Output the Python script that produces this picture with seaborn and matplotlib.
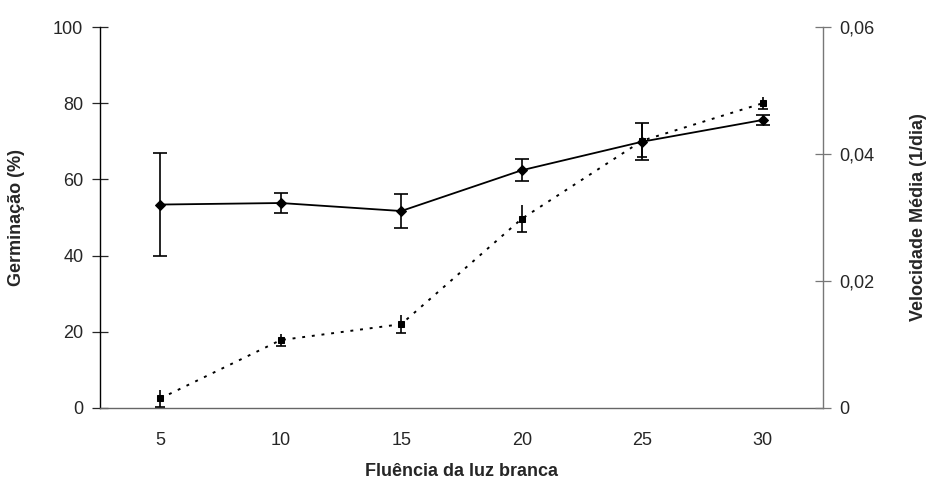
import numpy as np
import pandas as pd
import matplotlib
matplotlib.use("Agg")
import matplotlib.pyplot as plt
from matplotlib.ticker import FixedLocator, FuncFormatter
import seaborn as sns

# data
fluencia = ["5", "10", "15", "20", "25", "30"]
germinacao = [53.4, 53.8, 51.7, 62.4, 69.9, 75.6]
germinacao_err = [13.5, 2.7, 4.5, 2.9, 4.9, 1.4]
velocidade = [0.0015, 0.0107, 0.0132, 0.0298, 0.0421, 0.0480]
velocidade_err = [0.0013, 0.0009, 0.0014, 0.0021, 0.0026, 0.0009]

sns.set_theme(style="white")
plt.rcParams["font.family"] = ["Liberation Sans", "DejaVu Sans"]

pos = np.arange(len(fluencia))
df = pd.DataFrame({"pos": pos, "germ": germinacao, "vel": velocidade})

fig = plt.figure(figsize=(9.32, 4.93), dpi=100)
ax = fig.add_axes([100 / 932, 1 - 408 / 493, 723 / 932, 381 / 493])
ax2 = ax.twinx()

# solid line, diamonds (left axis)
sns.lineplot(data=df, x="pos", y="germ", ax=ax, color="black", lw=1.3,
             marker="D", markersize=5, markeredgecolor="black", zorder=3)
ax.errorbar(pos, germinacao, yerr=germinacao_err, fmt="none", ecolor="black",
            elinewidth=1.2, capsize=5, capthick=1.2, zorder=2)

# dotted line, squares (right axis); only the lower caps show
sns.lineplot(data=df, x="pos", y="vel", ax=ax2, color="black", lw=1.4,
             linestyle=(0, (1.5, 3.5)), marker="s", markersize=5,
             markeredgecolor="black", zorder=3)
v = np.array(velocidade)
ve = np.array(velocidade_err)
ax2.vlines(pos, v - ve, v + ve, color="black", lw=1.2, zorder=2)
ax2.hlines(v - ve, pos - 0.042, pos + 0.042, color="black", lw=1.2, zorder=2)

ax.set_xlim(-0.5, len(fluencia) - 0.5)
ax.set_ylim(0, 100)
ax2.set_ylim(0, 0.06)

# boundary ticks without labels, category labels centred
ax.xaxis.set_major_locator(FixedLocator(np.arange(-0.5, len(fluencia), 1.0)))
ax.xaxis.set_major_formatter(FuncFormatter(lambda v, p: ""))
ax.set_xticks(pos, fluencia, minor=True)
ax.tick_params(axis="x", which="major", direction="inout", length=13,
               width=0.9, color="#555555")
ax.tick_params(axis="x", which="minor", length=0, pad=17, labelsize=13)

ax.set_yticks([0, 20, 40, 60, 80, 100])
ax.tick_params(axis="y", direction="inout", length=12, width=0.9,
               labelsize=13, pad=6, left=True)
ax2.set_yticks([0, 0.02, 0.04, 0.06])
ax2.yaxis.set_major_formatter(
    FuncFormatter(lambda v, p: "0" if v == 0 else f"{v:.2f}".replace(".", ",")))
ax2.tick_params(axis="y", direction="inout", length=12, width=0.9,
                labelsize=13, pad=6, right=True, color="#777777")

ax.spines["top"].set_visible(False)
ax2.spines["top"].set_visible(False)
ax2.spines["left"].set_visible(False)
ax2.spines["bottom"].set_visible(False)
ax.spines["right"].set_visible(False)
ax.spines["left"].set_color("black")
ax.spines["bottom"].set_color("#666666")
ax2.spines["right"].set_color("#777777")
for sp in [ax.spines["left"], ax.spines["bottom"], ax2.spines["right"]]:
    sp.set_linewidth(1.0)

ax.set_xlabel("Fluência da luz branca", fontsize=13, fontweight="bold",
              labelpad=10)
ax.set_ylabel("Germinação (%)", fontsize=13, fontweight="bold", labelpad=20)
ax2.set_ylabel("Velocidade Média (1/dia)", fontsize=13, fontweight="bold",
               labelpad=25)

fig.savefig("out.png", dpi=100)
